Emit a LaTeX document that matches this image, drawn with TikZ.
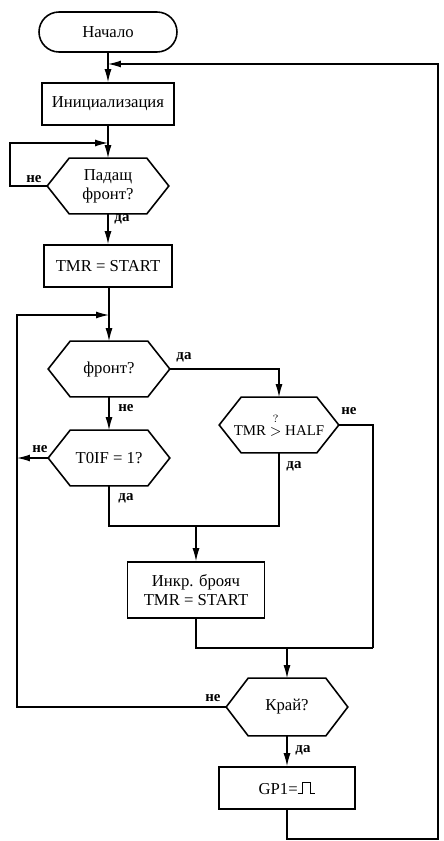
\documentclass[tikz,border=0pt]{standalone}
\usepackage{fontspec}
\setmainfont{Liberation Serif}
\usetikzlibrary{arrows.meta}
\newcommand{\pulsesym}{\rule{2.5pt}{0.8pt}\rule{0.8pt}{1.6ex}\rule[\dimexpr1.6ex-0.8pt\relax]{3.5pt}{0.8pt}\rule{0.8pt}{1.6ex}\rule{2.5pt}{0.8pt}}

\begin{document}
\begin{tikzpicture}[x=0.02cm, y=-0.02cm,
  term/.style={draw, rectangle, rounded corners=0.4cm, minimum width=2.76cm,
               minimum height=0.8cm, font=\fontsize{9.5}{11}\selectfont, line width=0.9pt},
  proc/.style={draw, rectangle, minimum width=2.64cm, minimum height=0.84cm,
               align=center, font=\fontsize{9.5}{11}\selectfont, line width=0.9pt},
  dec/.style={rectangle, minimum width=2.42cm, minimum height=1.1cm, inner sep=1pt,
              align=center, font=\fontsize{9.5}{11}\selectfont},
  hexline/.style={line width=0.9pt, line join=miter},
  lnk/.style={-{Latex[length=2.6mm,width=1.4mm]}, line width=0.7pt},
  ln/.style={line width=0.7pt},
  lbl/.style={font=\fontsize{8.5}{10}\selectfont\bfseries},
]
\useasboundingbox (0,0) rectangle (443,841);
\node[term] (start) at (108,32) {Начало};
\node[proc] (init) at (108,104) {Инициализация};
\node[dec] (fall) at (108,186) {Падащ\\фронт?};
\node[proc, minimum width=2.56cm] (tmr) at (108,266) {TMR = START};
\node[dec] (edge) at (109,369) {фронт?};
\node[dec] (tof) at (109,458) {T0IF = 1?};
\node[dec, minimum width=2.38cm, font=\fontsize{8.5}{10}\selectfont] (half) at (279,425)
  {TMR $\stackrel{\raisebox{1pt}{$\scriptstyle ?$}}{>}$ HALF};
\node[proc, minimum width=2.74cm, minimum height=1.12cm] (inc) at (196,590) {Инкр. брояч\\TMR = START};
\node[dec, minimum height=1.14cm] (last) at (287,707) {Край?};
\node[proc, minimum width=2.72cm] (gp) at (287,788) {GP1=\pulsesym};

\foreach \n in {fall,edge,tof,half,last}
  \draw[hexline] ([xshift=0.44cm]\n.north west) -- ([xshift=-0.44cm]\n.north east)
    -- (\n.east) -- ([xshift=-0.44cm]\n.south east) -- ([xshift=0.44cm]\n.south west)
    -- (\n.west) -- cycle;

\coordinate (topin) at (108,64);
\coordinate (fl) at (10,186);
\coordinate (fallin) at (108,143);
\coordinate (ml) at (17,707);
\coordinate (mlin) at (109,315);
\coordinate (j1) at (196,526);
\coordinate (rr) at (373,648);
\coordinate (j2) at (287,648);
\coordinate (bl) at (438,839);

\draw[lnk] (start) -- (init);
\draw[lnk] (init) -- (fall);
\draw[lnk] (fall) -- (tmr);
\draw[lnk] (tmr.south -| edge) -- (edge);
\draw[lnk] (edge) -- (tof);
\draw[lnk] (edge.east) -| (half.north);
\draw[lnk] (fall.west) -- (fl) |- (fallin);
\draw[lnk] (last.west) -- (ml) |- (mlin);
\draw[lnk] (tof.west) -- (tof.west -| ml);
\draw[ln] (tof.south) |- (half.south |- j1) -- (half.south);
\draw[lnk] (j1) -- (inc);
\draw[ln] (inc.south) |- (rr);
\draw[ln] (half.east) -| (rr);
\draw[lnk] (j2) -- (last);
\draw[lnk] (last) -- (gp);
\draw[lnk] (gp.south) |- (bl) |- (topin);

\node[lbl] (l1) at (34,179) {не};
\node[lbl] (l2) at (122,219) {да};
\node[lbl] (l3) at (184,357) {да};
\node[lbl] (l4) at (126,408) {не};
\node[lbl] (l5) at (349,411) {не};
\node[lbl] (l6) at (40,449) {не};
\node[lbl] (l7) at (126,498) {да};
\node[lbl] (l8) at (294,466) {да};
\node[lbl] (l9) at (213,698) {не};
\node[lbl] (l10) at (303,750) {да};
\end{tikzpicture}
\end{document}
